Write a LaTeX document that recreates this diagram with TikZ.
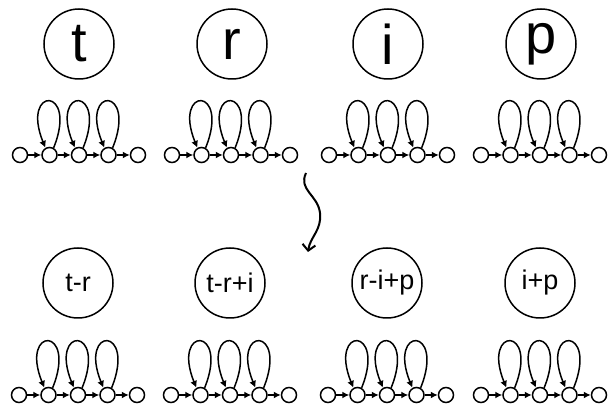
\documentclass[tikz,border=0pt]{standalone}
\usepackage{fontspec}
\setmainfont{Liberation Sans}
\usetikzlibrary{arrows.meta, positioning}

\begin{document}
\begin{tikzpicture}[x=1pt, y=1pt, >={Latex[length=7pt,width=7pt]}, node distance=29.5pt, line width=1.5pt,
        letter/.style={circle, draw, minimum size=70pt, inner sep=0pt, font=\fontsize{56}{56}\selectfont},
        mix/.style={circle, draw, minimum size=70pt, inner sep=0pt, font=\fontsize{27}{27}\selectfont},
        state/.style={circle, draw, minimum size=15pt, inner sep=0pt},
        squiggle/.style={line width=2pt, -{Straight Barb[length=6pt,width=13pt]}}]
        \useasboundingbox (0,0) rectangle (611,407);

        % letter nodes
        \node[letter] (t) at (79,363) {t};
        \node[letter] (r) at (232,363) {r};
        \node[letter] (i) at (388,363) {i};
        \node[letter] (p) at (541,363) {p};

        % combined nodes
        \node[mix] (tr) at (78,124) {t-r};
        \node[mix] (tri) at (230,124) {t-r+i};
        \node[mix] (rip) at (387,124) {r-i+p};
        \node[mix] (ip) at (540,124) {i+p};

        %chain t
        \node[state] (t2) at (79,252) {};
        \node[state, left of=t2] (t1) {};
        \node[state, left of=t1] (t0) {};
        \node[state, right of=t2] (t3) {};
        \node[state, right of=t3] (t4) {};
        \draw[->] (t0) -- (t1);
        \draw[->] (t1) -- (t2);
        \draw[->] (t2) -- (t3);
        \draw[->] (t3) -- (t4);
        \draw[->] (t1.60) .. controls +(25,62) and +(-25,62) .. (t1.120);
        \draw[->] (t2.60) .. controls +(25,62) and +(-25,62) .. (t2.120);
        \draw[->] (t3.60) .. controls +(25,62) and +(-25,62) .. (t3.120);

        %chain r
        \node[state] (r2) at (231,252) {};
        \node[state, left of=r2] (r1) {};
        \node[state, left of=r1] (r0) {};
        \node[state, right of=r2] (r3) {};
        \node[state, right of=r3] (r4) {};
        \draw[->] (r0) -- (r1);
        \draw[->] (r1) -- (r2);
        \draw[->] (r2) -- (r3);
        \draw[->] (r3) -- (r4);
        \draw[->] (r1.60) .. controls +(25,62) and +(-25,62) .. (r1.120);
        \draw[->] (r2.60) .. controls +(25,62) and +(-25,62) .. (r2.120);
        \draw[->] (r3.60) .. controls +(25,62) and +(-25,62) .. (r3.120);

        %chain i
        \node[state] (i2) at (388,252) {};
        \node[state, left of=i2] (i1) {};
        \node[state, left of=i1] (i0) {};
        \node[state, right of=i2] (i3) {};
        \node[state, right of=i3] (i4) {};
        \draw[->] (i0) -- (i1);
        \draw[->] (i1) -- (i2);
        \draw[->] (i2) -- (i3);
        \draw[->] (i3) -- (i4);
        \draw[->] (i1.60) .. controls +(25,62) and +(-25,62) .. (i1.120);
        \draw[->] (i2.60) .. controls +(25,62) and +(-25,62) .. (i2.120);
        \draw[->] (i3.60) .. controls +(25,62) and +(-25,62) .. (i3.120);

        %chain p
        \node[state] (p2) at (540,252) {};
        \node[state, left of=p2] (p1) {};
        \node[state, left of=p1] (p0) {};
        \node[state, right of=p2] (p3) {};
        \node[state, right of=p3] (p4) {};
        \draw[->] (p0) -- (p1);
        \draw[->] (p1) -- (p2);
        \draw[->] (p2) -- (p3);
        \draw[->] (p3) -- (p4);
        \draw[->] (p1.60) .. controls +(25,62) and +(-25,62) .. (p1.120);
        \draw[->] (p2.60) .. controls +(25,62) and +(-25,62) .. (p2.120);
        \draw[->] (p3.60) .. controls +(25,62) and +(-25,62) .. (p3.120);

        %chain t-r
        \node[state] (tr2) at (78,12) {};
        \node[state, left of=tr2] (tr1) {};
        \node[state, left of=tr1] (tr0) {};
        \node[state, right of=tr2] (tr3) {};
        \node[state, right of=tr3] (tr4) {};
        \draw[->] (tr0) -- (tr1);
        \draw[->] (tr1) -- (tr2);
        \draw[->] (tr2) -- (tr3);
        \draw[->] (tr3) -- (tr4);
        \draw[->] (tr1.60) .. controls +(25,62) and +(-25,62) .. (tr1.120);
        \draw[->] (tr2.60) .. controls +(25,62) and +(-25,62) .. (tr2.120);
        \draw[->] (tr3.60) .. controls +(25,62) and +(-25,62) .. (tr3.120);

        %chain t-r+i
        \node[state] (tri2) at (230,12) {};
        \node[state, left of=tri2] (tri1) {};
        \node[state, left of=tri1] (tri0) {};
        \node[state, right of=tri2] (tri3) {};
        \node[state, right of=tri3] (tri4) {};
        \draw[->] (tri0) -- (tri1);
        \draw[->] (tri1) -- (tri2);
        \draw[->] (tri2) -- (tri3);
        \draw[->] (tri3) -- (tri4);
        \draw[->] (tri1.60) .. controls +(25,62) and +(-25,62) .. (tri1.120);
        \draw[->] (tri2.60) .. controls +(25,62) and +(-25,62) .. (tri2.120);
        \draw[->] (tri3.60) .. controls +(25,62) and +(-25,62) .. (tri3.120);

        %chain r-i+p
        \node[state] (rip2) at (387,12) {};
        \node[state, left of=rip2] (rip1) {};
        \node[state, left of=rip1] (rip0) {};
        \node[state, right of=rip2] (rip3) {};
        \node[state, right of=rip3] (rip4) {};
        \draw[->] (rip0) -- (rip1);
        \draw[->] (rip1) -- (rip2);
        \draw[->] (rip2) -- (rip3);
        \draw[->] (rip3) -- (rip4);
        \draw[->] (rip1.60) .. controls +(25,62) and +(-25,62) .. (rip1.120);
        \draw[->] (rip2.60) .. controls +(25,62) and +(-25,62) .. (rip2.120);
        \draw[->] (rip3.60) .. controls +(25,62) and +(-25,62) .. (rip3.120);

        %chain i+p
        \node[state] (ip2) at (540,12) {};
        \node[state, left of=ip2] (ip1) {};
        \node[state, left of=ip1] (ip0) {};
        \node[state, right of=ip2] (ip3) {};
        \node[state, right of=ip3] (ip4) {};
        \draw[->] (ip0) -- (ip1);
        \draw[->] (ip1) -- (ip2);
        \draw[->] (ip2) -- (ip3);
        \draw[->] (ip3) -- (ip4);
        \draw[->] (ip1.60) .. controls +(25,62) and +(-25,62) .. (ip1.120);
        \draw[->] (ip2.60) .. controls +(25,62) and +(-25,62) .. (ip2.120);
        \draw[->] (ip3.60) .. controls +(25,62) and +(-25,62) .. (ip3.120);

        % wavy arrow down
        \coordinate (w0) at (306,234);
        \coordinate (w1) at (308,155);
        \draw[squiggle] (w0) .. controls (298,217) and (318,212) .. (320,194) .. controls (322,177) and (310,170) .. (w1);

    \end{tikzpicture}
\end{document}
